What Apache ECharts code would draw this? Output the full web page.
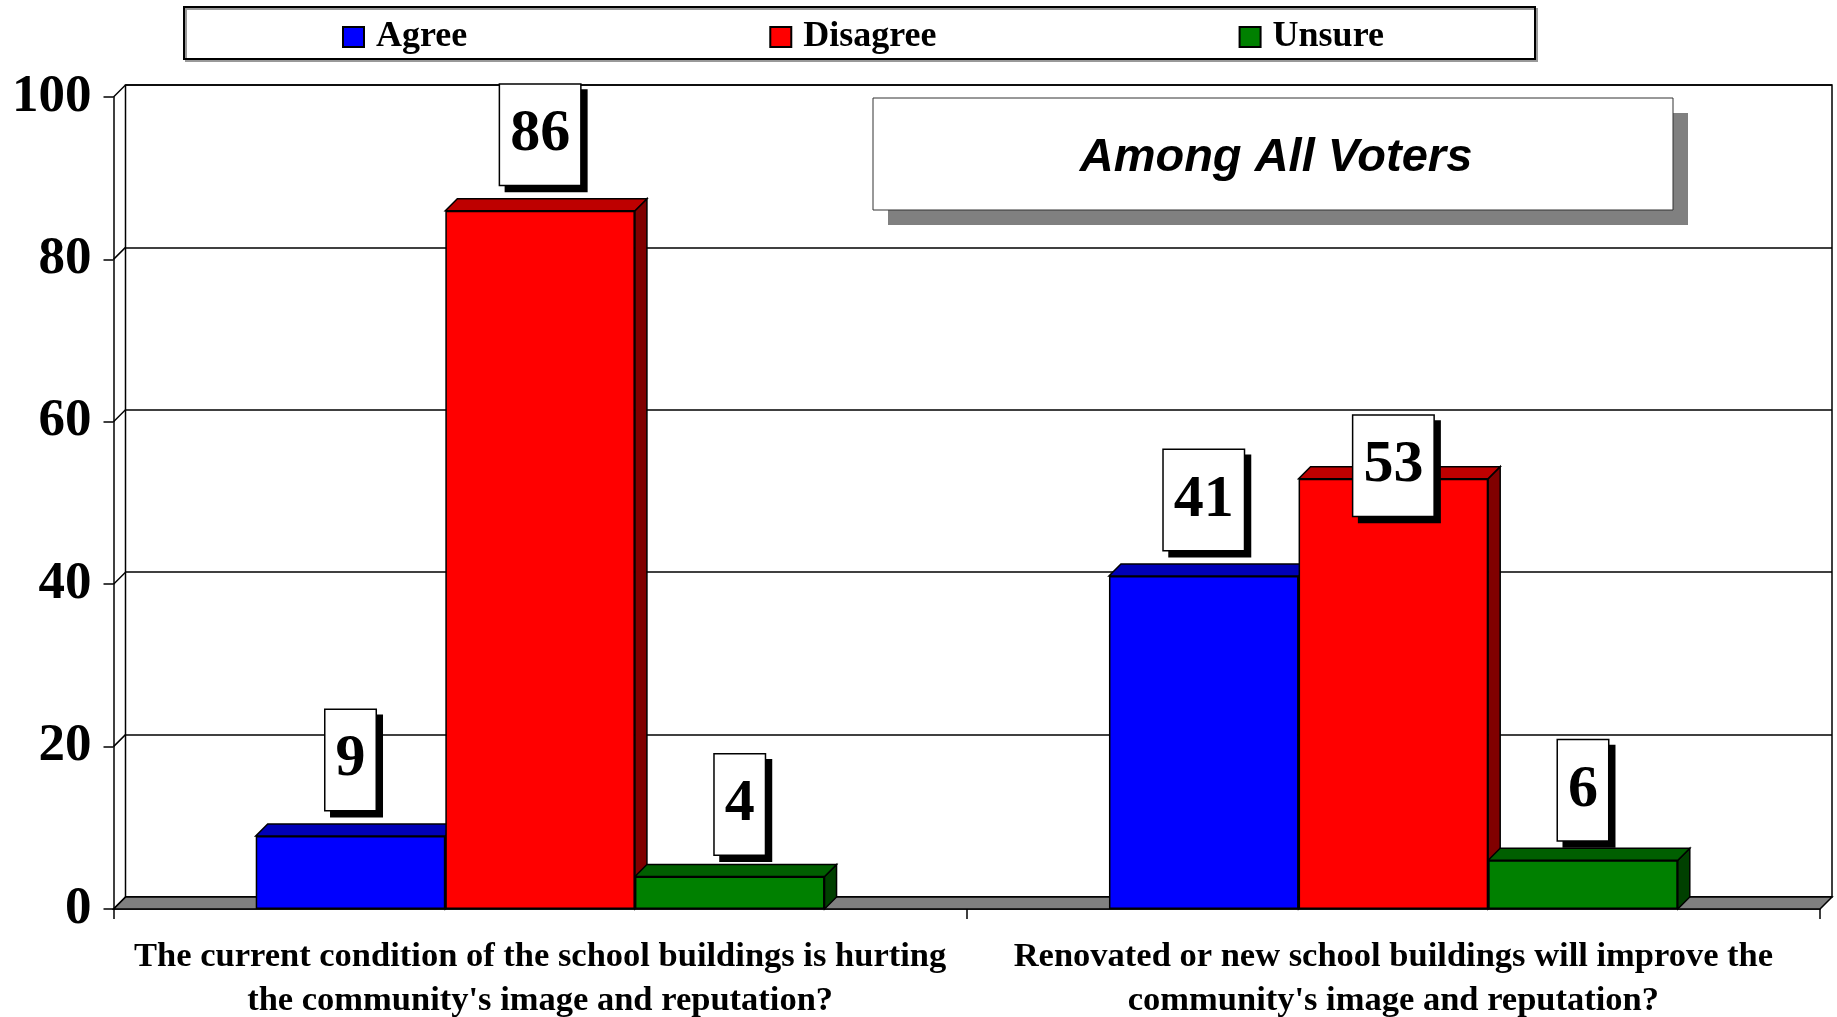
<!DOCTYPE html>
<html><head><meta charset="utf-8">
<script src="https://cdn.jsdelivr.net/npm/echarts/dist/echarts.min.js"></script>
<style>html,body{margin:0;padding:0;background:#fff}#c{width:1837px;height:1017px}</style>
</head><body><div id="c"></div>
<script>
// ---- data ----
const categories = [
  "The current condition of the school buildings is hurting\nthe community's image and reputation?",
  "Renovated or new school buildings will improve the\ncommunity's image and reputation?"
];
const seriesNames = ['Agree', 'Disagree', 'Unsure'];
const agreeValues = [9, 41];
const disagreeValues = [86, 53];
const unsureValues = [4, 6];
const yTicks = [0, 20, 40, 60, 80, 100];
const panelTitle = 'Among All Voters';

// ---- styling ----
const D = 12;               // 3D depth in px
const GAP = 1 / 3;          // category gap fraction
const frontColors = ['#0000FF', '#FF0000', '#008000'];
const topColors = ['#0000B8', '#BE0000', '#005F00'];
const sideColors = ['#000080', '#800000', '#004000'];
const allValues = [agreeValues, disagreeValues, unsureValues];
const serif = "'Liberation Serif','Times New Roman',serif";

const chart = echarts.init(document.getElementById('c'));

function facesRenderer(si) {
  return function (params, api) {
    const cat = api.value(0), v = api.value(1);
    const p = api.coord([cat, v]);
    const p0 = api.coord([cat, 0]);
    const band = api.size([1, 0])[0];
    const bw = band * (1 - GAP) / 3;
    const x0 = p[0] - 1.5 * bw + si * bw, x1 = x0 + bw, yt = p[1], yb = p0[1];
    return {
      type: 'group', children: [
        { type: 'polygon', shape: { points: [[x1, yt], [x1 + D, yt - D], [x1 + D, yb - D], [x1, yb]] },
          style: { fill: sideColors[si], stroke: '#000', lineWidth: 1.5 } },
        { type: 'polygon', shape: { points: [[x0, yt], [x1, yt], [x1 + D, yt - D], [x0 + D, yt - D]] },
          style: { fill: topColors[si], stroke: '#000', lineWidth: 1.5 } }
      ]
    };
  };
}

const labelNudge = { 'Disagree-1': [0, 63], 'Unsure-0': [10, 4], 'Unsure-1': [0, 6] };

const series = [];
// floor
series.push({
  type: 'custom', xAxisIndex: 0, yAxisIndex: 0, z: 1, silent: true,
  data: [[0, 0]],
  renderItem: function (params, api) {
    const cs = params.coordSys;
    const yb = api.coord([0, 0])[1];
    const xl = cs.x, xr = cs.x + cs.width;
    return { type: 'polygon', shape: { points: [[xl, yb], [xr, yb], [xr + D, yb - D], [xl + D, yb - D]] },
      style: { fill: '#808080', stroke: '#000', lineWidth: 1.5 } };
  }
});
// left wall diagonals
series.push({
  type: 'custom', xAxisIndex: 0, yAxisIndex: 0, z: 1, silent: true,
  data: yTicks.map(v => [0, v]),
  renderItem: function (params, api) {
    const cs = params.coordSys;
    const y = api.coord([0, api.value(1)])[1];
    return { type: 'line', shape: { x1: cs.x, y1: y, x2: cs.x + D, y2: y - D },
      style: { stroke: '#000', lineWidth: 1.5 } };
  }
});
// 3D faces
seriesNames.forEach((name, si) => {
  series.push({
    type: 'custom', xAxisIndex: 0, yAxisIndex: 0, z: 2, silent: true,
    data: allValues[si].map((v, i) => [i, v]),
    encode: { x: 0, y: 1 },
    renderItem: facesRenderer(si)
  });
});
// front faces
seriesNames.forEach((name, si) => {
  series.push({
    name: name, type: 'bar', xAxisIndex: 0, yAxisIndex: 0, z: 3,
    barGap: '0%', barCategoryGap: (GAP * 100) + '%',
    itemStyle: { color: frontColors[si], borderColor: '#000', borderWidth: 1.5 },
    data: allValues[si].map((v, i) => {
      const nudge = labelNudge[name + '-' + i];
      return nudge ? { value: v, label: { offset: nudge } } : v;
    }),
    label: {
      show: true, position: 'top', distance: 26,
      fontFamily: serif, fontWeight: 'bold', fontSize: 60, lineHeight: 60, color: '#000',
      backgroundColor: '#fff', borderColor: '#000', borderWidth: 1.5,
      padding: [20, 10],
      shadowColor: '#000', shadowOffsetX: 6, shadowOffsetY: 6, shadowBlur: 0
    }
  });
});

const option = {
  animation: false,
  backgroundColor: '#fff',
  graphic: [
    { type: 'rect', z: 0, shape: { x: 184, y: 7, width: 1351, height: 52 },
      style: { fill: '#fff', stroke: '#000', lineWidth: 2, shadowColor: '#999', shadowOffsetX: 2, shadowOffsetY: 2 } },
    { type: 'rect', z: 10, shape: { x: 888, y: 113, width: 800, height: 112 }, style: { fill: '#808080' } },
    { type: 'rect', z: 10, shape: { x: 873, y: 98, width: 800, height: 112 }, style: { fill: '#fff', stroke: '#333', lineWidth: 1 } },
    { type: 'text', z: 11, x: 1276, y: 158,
      style: { text: panelTitle, align: 'center', verticalAlign: 'middle', fill: '#000',
        font: "italic bold 47px 'Liberation Sans', Arial, sans-serif" } }
  ],
  legend: {
    data: seriesNames, left: 342, top: 19, padding: 0,
    icon: 'rect', itemWidth: 21, itemHeight: 20, itemGap: 302,
    textStyle: { fontFamily: serif, fontWeight: 'bold', fontSize: 36, color: '#000', padding: [0, 0, 0, 7] }
  },
  grid: [
    { left: 113.5, right: 17, top: 97, bottom: 108, containLabel: false, outerBoundsMode: 'none' },
    { left: 125.5, right: 5, top: 85, bottom: 120, containLabel: false, outerBoundsMode: 'none',
      show: true, backgroundColor: '#fff', borderColor: '#000', borderWidth: 1.5 }
  ],
  xAxis: [
    { type: 'category', gridIndex: 0, data: categories,
      axisLine: { lineStyle: { color: '#000', width: 1.5 } },
      axisTick: { show: true, length: 10, lineStyle: { color: '#000', width: 1.5 } },
      axisLabel: { interval: 0, margin: 26, fontFamily: serif, fontWeight: 'bold', fontSize: 34.5, lineHeight: 44, color: '#000' },
      splitLine: { show: false } },
    { type: 'category', gridIndex: 1, data: categories, show: false }
  ],
  yAxis: [
    { type: 'value', gridIndex: 0, min: 0, max: 100, interval: 20,
      axisLine: { show: true, lineStyle: { color: '#000', width: 1.5 } },
      axisTick: { show: true, length: 10, lineStyle: { color: '#000', width: 1.5 } },
      axisLabel: { margin: 22, fontFamily: serif, fontWeight: 'bold', fontSize: 53, color: '#000' },
      splitLine: { show: false } },
    { type: 'value', gridIndex: 1, min: 0, max: 100, interval: 20,
      axisLine: { show: false }, axisTick: { show: false }, axisLabel: { show: false },
      splitLine: { show: true, lineStyle: { color: '#000', width: 1.5 } } }
  ],
  series: series
};
chart.setOption(option);
</script>
</body></html>
